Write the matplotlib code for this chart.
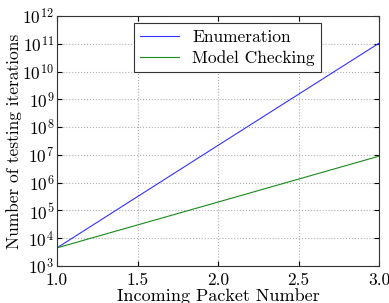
import matplotlib
matplotlib.use("Agg")
import matplotlib.pyplot as plt
from matplotlib.ticker import LogLocator, NullFormatter

packets = [1.0, 2.0, 3.0]
enumeration = [4.5e3, 2.2e7, 1.05e11]
model_checking = [4.5e3, 2.0e5, 9.0e6]

plt.rcParams['font.family'] = ['cmr10', 'DejaVu Serif']
plt.rcParams['mathtext.fontset'] = 'cm'
plt.rcParams['axes.formatter.use_mathtext'] = True

fig = plt.figure(figsize=(3.89, 3.03), dpi=100)
ax = fig.add_axes([57/389, 1-266/303, (379-57)/389, (266-16)/303])
ax.plot(packets, enumeration, color='#3333ff', lw=0.8, label='Enumeration')
ax.plot(packets, model_checking, color='#1a8a1a', lw=0.8, label='Model Checking')
ax.set_yscale('log')
ax.set_xlim(1.0, 3.0)
ax.set_ylim(1e3, 1e12)
ax.set_xticks([1.0, 1.5, 2.0, 2.5, 3.0])
ax.set_xticklabels(['1.0', '1.5', '2.0', '2.5', '3.0'])
ax.yaxis.set_major_locator(LogLocator(base=10, numticks=20))
ax.yaxis.set_minor_formatter(NullFormatter())
ax.grid(True, which='major', color='#b0b0b0', linestyle=':', lw=0.8)
ax.tick_params(direction='in', top=True, right=True, labelsize=12.5, which='both')
ax.tick_params(axis='x', pad=5)
ax.tick_params(axis='y', pad=2)
for s in ax.spines.values():
    s.set_color('#333333')
ax.set_xlabel('Incoming Packet Number', fontsize=13, labelpad=0)
ax.set_ylabel('Number of testing iterations', fontsize=12.5, labelpad=0)
leg = ax.legend(loc='upper center', fontsize=12.5, fancybox=False, edgecolor='#333333',
                framealpha=1, bbox_to_anchor=(0.53, 1.005), handlelength=2.2,
                borderpad=0.35, labelspacing=0.3)
leg.get_frame().set_linewidth(0.8)
fig.savefig('out.png', dpi=100)
